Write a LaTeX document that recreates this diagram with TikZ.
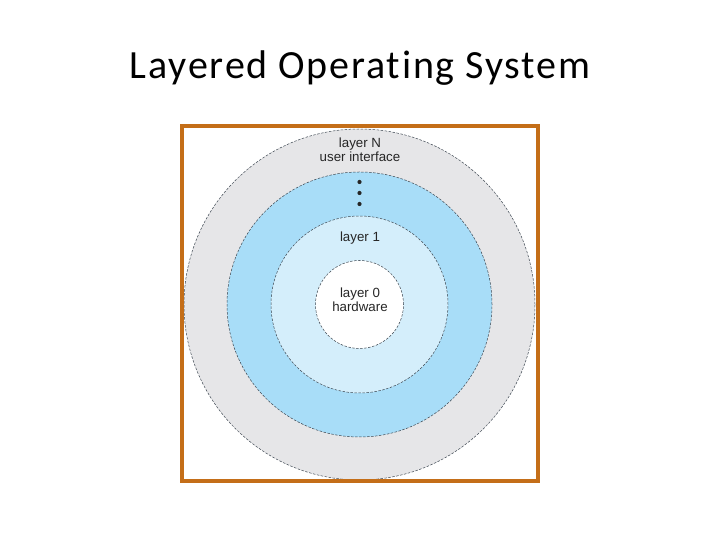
\documentclass[tikz,border=0pt]{standalone}
\usepackage{fontspec}
\setmainfont{Liberation Sans}
\newfontfamily\titlefont[Ligatures=NoCommon,LetterSpace=4.5]{Carlito}
\definecolor{framecol}{RGB}{196,110,24}
\definecolor{ringgray}{RGB}{230,230,232}
\definecolor{ringblue}{RGB}{168,221,248}
\definecolor{ringlight}{RGB}{212,238,251}
\definecolor{edgecol}{RGB}{60,70,80}
\begin{document}
\begin{tikzpicture}[x=1pt,y=1pt,
  ring/.style={circle, draw=edgecol, line width=0.5pt, dash pattern=on 2.5pt off 1.5pt, inner sep=0pt},
  lbl/.style={font=\fontsize{13.3}{15}\selectfont, anchor=base, inner sep=0pt, text=black!85},
  dotmark/.style={circle, fill=black!85, inner sep=0pt, minimum size=4.2pt}]
\useasboundingbox (0,0) rectangle (720,540);
\node[font=\titlefont\fontsize{40}{48}\selectfont, anchor=base, inner sep=0pt] (title) at (360,461) {Layered Operating System};
\coordinate (c) at (359.5,235.5);
\begin{scope}
\clip (184,61) rectangle (536,412);
\node[ring, fill=ringgray, minimum size=351pt] (outer) at (c) {};
\end{scope}
\node[ring, fill=ringblue, minimum size=265pt] (blue) at (c) {};
\node[ring, fill=ringlight, minimum size=177pt] (light) at (c) {};
\node[ring, fill=white, minimum size=88pt] (inner) at (c) {};
\draw[framecol, line width=4pt] (182,59) rectangle (538,414);
\node[lbl] (ln) at (360,392) {layer N};
\node[lbl] (ui) at (360,378) {user interface};
\node[dotmark] (d1) at (359.5,358) {};
\node[dotmark] (d2) at (359.5,347) {};
\node[dotmark] (d3) at (359.5,336) {};
\node[lbl] (l1) at (360,298) {layer 1};
\node[lbl] (l0) at (360,242) {layer 0};
\node[lbl] (hw) at (360,228) {hardware};
\end{tikzpicture}
\end{document}
